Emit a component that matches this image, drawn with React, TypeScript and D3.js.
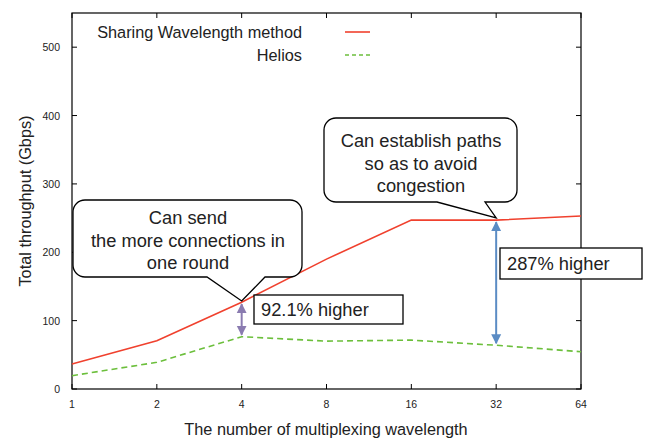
import React, { useEffect, useRef } from 'react';
import * as d3 from 'd3';

// wavelengths on the x axis (log2 spaced)
const wavelengths = [1, 2, 4, 8, 16, 32, 64];
const sharingValues = [36.5, 70.5, 127, 190, 247, 247, 253];
const heliosValues = [19.5, 39, 76.5, 70, 71.5, 64, 54.5];
const yTicks = [0, 100, 200, 300, 400, 500];
const seriesNames = ['Sharing Wavelength method', 'Helios'];
const callout1Lines = ['Can send', 'the more connections in', 'one round'];
const callout2Lines = ['Can establish paths', 'so as to avoid', 'congestion'];
const label1 = '92.1% higher';
const label2 = '287% higher';

const W = 645;
const H = 438;
const margin = { top: 13, right: 64, bottom: 49, left: 72 };
const font = '"Liberation Sans", Arial, sans-serif';

const App: React.FC = () => {
  const svgRef = useRef<SVGSVGElement | null>(null);

  useEffect(() => {
    const svg = d3.select(svgRef.current);
    svg.selectAll('*').remove();

    const x = d3.scaleLog().base(2)
      .domain([1, 64])
      .range([margin.left, W - margin.right]);
    const y = d3.scaleLinear()
      .domain([0, 550])
      .range([H - margin.bottom, margin.top]);

    const x0 = margin.left, x1 = W - margin.right;
    const y0 = H - margin.bottom, y1 = margin.top;

    // frame
    svg.append('rect')
      .attr('x', x0).attr('y', y1)
      .attr('width', x1 - x0).attr('height', y0 - y1)
      .attr('fill', 'none').attr('stroke', '#000').attr('stroke-width', 1.2);

    // x ticks (bottom and top, inward)
    const xt = svg.append('g');
    wavelengths.forEach(w => {
      xt.append('line').attr('x1', x(w)).attr('x2', x(w)).attr('y1', y0).attr('y2', y0 - 5).attr('stroke', '#000');
      xt.append('line').attr('x1', x(w)).attr('x2', x(w)).attr('y1', y1).attr('y2', y1 + 5).attr('stroke', '#000');
      xt.append('text').attr('x', x(w)).attr('y', y0 + 19)
        .attr('text-anchor', 'middle').attr('font-size', 10.5).attr('font-family', font)
        .attr('fill', '#222').text(w);
    });

    const yt = svg.append('g');
    yTicks.forEach(t => {
      yt.append('line').attr('x1', x0).attr('x2', x0 + 5).attr('y1', y(t)).attr('y2', y(t)).attr('stroke', '#000');
      yt.append('line').attr('x1', x1).attr('x2', x1 - 5).attr('y1', y(t)).attr('y2', y(t)).attr('stroke', '#000');
      yt.append('text').attr('x', x0 - 12).attr('y', y(t) + 4)
        .attr('text-anchor', 'end').attr('font-size', 10.5).attr('font-family', font)
        .attr('fill', '#222').text(t);
    });

    // axis titles
    svg.append('text')
      .attr('x', 326).attr('y', 435)
      .attr('text-anchor', 'middle').attr('font-size', 16.3).attr('font-family', font)
      .attr('fill', '#222').text('The number of multiplexing wavelength');
    svg.append('text')
      .attr('transform', `translate(31,${(y0 + y1) / 2}) rotate(-90)`)
      .attr('text-anchor', 'middle').attr('font-size', 16.3).attr('font-family', font)
      .attr('fill', '#222').text('Total throughput (Gbps)');

    const line = d3.line<number>()
      .x((_, i) => x(wavelengths[i]))
      .y(d => y(d));

    svg.append('path').datum(heliosValues)
      .attr('d', line).attr('fill', 'none')
      .attr('stroke', '#6cbf3c').attr('stroke-width', 1.6).attr('stroke-dasharray', '6,4');
    svg.append('path').datum(sharingValues)
      .attr('d', line).attr('fill', 'none')
      .attr('stroke', '#f0412e').attr('stroke-width', 1.6);

    // legend
    const lg = svg.append('g').attr('font-family', font).attr('font-size', 16.3).attr('fill', '#222');
    lg.append('text').attr('x', 302).attr('y', 38).attr('text-anchor', 'end').text(seriesNames[0]);
    lg.append('text').attr('x', 302).attr('y', 61).attr('text-anchor', 'end').text(seriesNames[1]);
    lg.append('line').attr('x1', 345).attr('x2', 370).attr('y1', 32).attr('y2', 32)
      .attr('stroke', '#f0412e').attr('stroke-width', 1.6);
    lg.append('line').attr('x1', 345).attr('x2', 370).attr('y1', 55).attr('y2', 55)
      .attr('stroke', '#6cbf3c').attr('stroke-width', 1.6).attr('stroke-dasharray', '4,3');

    // arrows
    const defs = svg.append('defs');
    const mk = (id: string, color: string) => {
      defs.append('marker').attr('id', id).attr('viewBox', '0 0 10 10')
        .attr('refX', 9).attr('refY', 5).attr('markerWidth', 5).attr('markerHeight', 7)
        .attr('orient', 'auto-start-reverse')
        .append('path').attr('d', 'M0,0 L10,5 L0,10 z').attr('fill', color);
    };
    mk('arrP', '#8a7bb0');
    mk('arrB', '#5b8cc4');
    svg.append('line')
      .attr('x1', x(4)).attr('x2', x(4))
      .attr('y1', y(sharingValues[2]) + 2).attr('y2', y(heliosValues[2]) - 2)
      .attr('stroke', '#8a7bb0').attr('stroke-width', 2)
      .attr('marker-start', 'url(#arrP)').attr('marker-end', 'url(#arrP)');
    svg.append('line')
      .attr('x1', x(32)).attr('x2', x(32))
      .attr('y1', y(sharingValues[5]) + 2).attr('y2', y(heliosValues[5]) - 2)
      .attr('stroke', '#5b8cc4').attr('stroke-width', 2)
      .attr('marker-start', 'url(#arrB)').attr('marker-end', 'url(#arrB)');

    // callouts
    const callout = (
      bx0: number, by0: number, bx1: number, by1: number,
      px0: number, px1: number, tx: number, ty: number, r: number,
    ) => {
      const p = d3.path();
      p.moveTo(bx0 + r, by0);
      p.lineTo(bx1 - r, by0);
      p.arcTo(bx1, by0, bx1, by0 + r, r);
      p.lineTo(bx1, by1 - r);
      p.arcTo(bx1, by1, bx1 - r, by1, r);
      p.lineTo(px1, by1);
      p.lineTo(tx, ty);
      p.lineTo(px0, by1);
      p.lineTo(bx0 + r, by1);
      p.arcTo(bx0, by1, bx0, by1 - r, r);
      p.lineTo(bx0, by0 + r);
      p.arcTo(bx0, by0, bx0 + r, by0, r);
      p.closePath();
      svg.append('path').attr('d', p.toString())
        .attr('fill', '#fff').attr('stroke', '#000').attr('stroke-width', 1.3);
    };
    callout(73, 200, 302, 277, 207, 265, x(4), 301, 12);
    callout(324, 118, 517, 202, 437, 485, x(32), 218, 12);

    const textBlock = (lines: string[], cx: number, firstY: number) => {
      lines.forEach((l, i) => {
        svg.append('text').attr('x', cx).attr('y', firstY + i * 22.5)
          .attr('text-anchor', 'middle').attr('font-family', font).attr('font-size', 18.3)
          .attr('fill', '#222').text(l);
      });
    };
    textBlock(callout1Lines, 188, 224);
    textBlock(callout2Lines, 421, 147);

    // percentage boxes
    const box = (bx: number, by: number, bw: number, bh: number, txt: string) => {
      svg.append('rect').attr('x', bx).attr('y', by).attr('width', bw).attr('height', bh)
        .attr('fill', '#fff').attr('stroke', '#000').attr('stroke-width', 1.3);
      svg.append('text').attr('x', bx + 7).attr('y', by + bh / 2 + 6.5)
        .attr('font-family', font).attr('font-size', 18.3).attr('fill', '#222').text(txt);
    };
    box(254, 295, 149, 29, label1);
    box(500, 248, 142, 31, label2);
  }, []);

  return (
    <svg ref={svgRef} width={W} height={H}
      style={{ position: 'absolute', left: 0, top: 0, background: '#fff' }} />
  );
};

export default App;
